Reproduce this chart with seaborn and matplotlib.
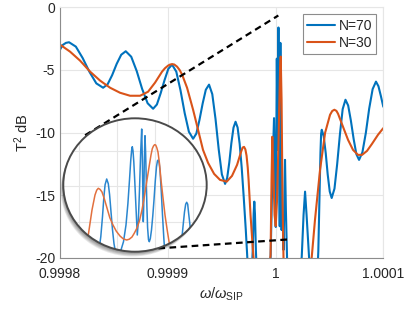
import numpy as np
import pandas as pd
import matplotlib
matplotlib.use("Agg")
import matplotlib.pyplot as plt
import seaborn as sns
from matplotlib.patches import Ellipse

# frequency offsets u = (omega/omega_SIP - 1) * 1e5, transmission in dB
n70_u = [-20, -19.75, -19.45, -19.16, -18.53, -17.9, -17.26, -16.63, -16.0,
         -15.58, -15.16, -14.74, -14.32, -13.9, -13.39, -12.88, -12.38, -11.87, -11.36,
         -11.01, -10.66, -10.3, -9.95, -9.6, -9.21, -8.82, -8.43, -8.04, -7.65,
         -7.35, -7.06, -6.76, -6.47, -6.17, -5.87, -5.57, -5.27, -4.98, -4.68,
         -4.49, -4.29, -4.1, -3.9, -3.71, -3.52, -3.33, -3.14, -2.95, -2.76, -2.6, -2.45,
         -2.25, -2.12, -2.03, -1.97, -1.91, -1.82, -1.7,
         -0.7, -0.46, -0.28, -0.14, -0.05, 0.02, 0.07, 0.12, 0.19, 0.27,
         0.34, 0.39, 0.45, 0.5, 0.56, 0.65, 0.74, 0.82, 0.88, 0.96,
         1.07, 1.16, 2.18, 2.43, 2.6, 2.74, 2.88, 3.11, 3.25,
         3.85, 3.97, 4.07, 4.17, 4.23, 4.29, 4.47, 4.66, 4.84, 5.03, 5.21,
         5.47, 5.72, 5.98, 6.23, 6.49, 6.74, 6.99, 7.25, 7.5, 7.75,
         8.06, 8.38, 8.69, 9.01, 9.32, 9.55, 9.78, 10.0]
n70_db = [-3.37, -3.0, -2.83, -2.78, -3.13, -4.04, -5.16, -6.07, -6.42,
          -6.14, -5.41, -4.51, -3.78, -3.5, -3.94, -5.09, -6.51, -7.66, -8.1,
          -7.76, -6.86, -5.81, -4.91, -4.57, -5.13, -6.62, -8.45, -9.94, -10.5,
          -10.09, -9.0, -7.67, -6.58, -6.17, -6.93, -8.91, -11.37, -13.35, -14.11,
          -13.64, -12.39, -10.86, -9.61, -9.14, -9.6, -10.9, -12.8, -15.2, -17.8, -20.3, -22.0,
          -22.0, -19.5, -16.5, -15.53, -16.5, -19.5, -22.0,
          -21.4, -20.05, -13.0, -8.85, -13.8, -17.56, -11.0, -4.09, -11.39, -1.6,
          -13.0, -17.5, -2.83, -12.0, -17.8, -16.6, -19.4, -15.4, -12.19, -16.2,
          -20.05, -21.4, -21.4, -19.97, -16.6, -14.73, -16.6, -19.97, -21.4,
          -22.0, -19.5, -15.5, -11.6, -10.1, -9.78, -10.3, -11.67, -13.35, -14.72, -15.24,
          -14.49, -12.52, -10.1, -8.13, -7.38, -7.84, -9.04, -10.53, -11.73, -12.19,
          -11.59, -10.03, -8.09, -6.53, -5.93, -6.3, -7.1, -7.94]

n30_u = [-20, -19.07, -18.14, -17.21, -16.28, -15.35, -14.43, -13.5, -12.57, -11.83,
         -11.18, -10.53, -10.25, -9.97, -9.8, -9.6, -9.4, -9.14, -8.9, -8.67,
         -8.21, -7.65, -7.19, -6.73, -6.26, -5.7, -5.15, -4.53, -4.04, -3.57,
         -3.2, -3.05, -2.92, -2.8, -2.69, -2.58, -2.5, -2.32, -2.13, -1.99, -1.81,
         -0.7, -0.46, -0.37, -0.3, -0.21, -0.09,
         0.02, 0.14, 0.28, 0.42, 0.48, 0.56, 0.65, 0.74, 0.88, 3.01,
         3.36, 3.66, 4.13, 4.6, 5.06, 5.26, 5.46, 5.65, 5.8, 6.26, 6.73, 7.19,
         7.65, 8.03, 8.49, 8.95, 9.51, 10.0]
n30_db = [-2.97, -3.53, -4.25, -5.13, -5.85, -6.42, -6.82, -7.06, -7.06, -6.74,
          -6.01, -5.13, -4.85, -4.65, -4.57, -4.53, -4.56, -4.73, -5.0, -5.37,
          -6.42, -8.18, -9.78, -11.39, -12.43, -13.31, -13.79, -13.93, -13.47, -12.59,
          -11.55, -11.2, -11.15, -11.35, -11.85, -12.8, -13.79, -16.6, -19.0, -20.6, -21.8,
          -21.8, -19.8, -13.79, -10.34, -13.0, -16.6,
          -17.48, -15.4, -10.59, -4.97, -3.93, -7.38, -15.4, -20.05, -21.8, -21.8,
          -19.97, -17.0, -12.99, -10.02, -8.58, -8.28, -8.18, -8.27, -8.5, -9.54, -10.59, -11.39,
          -11.79, -11.79, -11.47, -10.91, -10.18, -9.65]

# magnified view (local inset units)
inset_n70_x = [32.7, 35.5, 37.5, 39.2, 40.6, 41.8, 43.4, 45.0, 46.3, 47.7,
               49.2, 50.7, 52.5, 55.0, 57.7, 60.2, 62.7, 64.6, 66.2, 67.5,
               68.4, 69.0, 69.7, 70.5, 71.5, 72.8, 74.0, 75.0, 76.2, 77.4,
               78.4, 79.0, 79.6, 80.0, 80.4, 81.0, 81.7, 82.3, 82.9, 83.6,
               84.3, 85.2, 86.0, 87.0, 88.2, 89.5, 90.7, 92.0, 93.2, 94.2,
               95.0, 95.8, 96.7, 98.0, 99.2, 100.5, 101.7, 103.7, 115.7, 118.4,
               120.0, 121.2, 122.4, 123.4, 124.4, 125.2, 126.3, 127.4, 129.7]
inset_n70_y = [-10.3, 0.0, 15.0, 35.0, 55.0, 67.0, 72.7, 68.0, 57.0, 40.0,
               22.0, 8.0, -2.0, -3.0, 1.7, 10.0, 26.7, 48.0, 71.7, 92.0,
               102.0, 105.0, 101.0, 90.0, 70.0, 42.0, 16.7, 30.0, 61.7, 100.0,
               122.7, 95.0, 55.0, 30.0, 45.0, 90.0, 116.0, 100.0, 75.0, 45.0,
               24.0, 12.0, 10.0, 13.0, 21.7, 36.0, 51.7, 71.0, 85.0, 91.0,
               91.7, 89.0, 81.7, 60.0, 36.7, 14.0, -3.3, -18.0, -18.0, 11.7,
               28.0, 39.7, 47.5, 49.4, 47.5, 39.7, 30.0, 19.7, -3.3]
inset_n30_x = [21.7, 25.0, 28.7, 31.7, 33.4, 35.0, 36.8, 38.7, 41.0, 43.7,
               46.5, 49.7, 53.0, 56.7, 60.0, 63.4, 66.0, 68.7, 71.0, 73.7,
               76.2, 78.7, 81.2, 83.7, 85.8, 87.7, 89.0, 90.2, 91.3, 92.4,
               93.5, 94.7, 96.2, 97.7, 99.7, 101.7, 104.0, 106.0, 108.7]
inset_n30_y = [-8.3, 16.7, 41.7, 56.7, 61.5, 63.4, 62.3, 59.7, 53.0, 43.7,
               34.0, 26.7, 20.5, 15.7, 12.8, 11.7, 12.5, 14.7, 18.5, 23.7,
               31.0, 41.7, 56.0, 71.7, 85.0, 96.7, 103.0, 105.7, 107.0, 106.7,
               104.0, 99.7, 88.0, 71.7, 54.0, 36.7, 21.0, 8.4, -10.3]
inset_grid_x = [15.7, 53.7, 91.7, 129.7]
inset_grid_y = [29.7, 65.2, 100.7]

# zoom guide lines (u, dB)
zoom_top_u = [-17.67, 0.26]
zoom_top_db = [-10.22, -0.64]
zoom_bot_u = [-10.87, 1.09]
zoom_bot_db = [-19.27, -18.56]

x_ticks = [0.9998, 0.9999, 1.0, 1.0001]
x_tick_labels = ["0.9998", "0.9999", "1", "1.0001"]
y_ticks = [0, -5, -10, -15, -20]

blue = "#0072BD"
orange = "#D95319"

sns.set_theme(style="whitegrid")
plt.rcParams["font.family"] = ["Liberation Sans", "DejaVu Sans"]
plt.rcParams["mathtext.fontset"] = "custom"
plt.rcParams["mathtext.rm"] = "Liberation Sans"
plt.rcParams["mathtext.it"] = "Liberation Sans:italic"
plt.rcParams["axes.unicode_minus"] = False

fig = plt.figure(figsize=(4.11, 3.11), dpi=100)
ax = fig.add_axes([0.1460, 0.1720, 0.7866, 0.8039])
ax.set_facecolor("white")

def to_x(u):
    return 1.0 + np.asarray(u) * 1e-5

df70 = pd.DataFrame({"x": to_x(n70_u), "y": n70_db})
df30 = pd.DataFrame({"x": to_x(n30_u), "y": n30_db})
sns.lineplot(data=df70, x="x", y="y", ax=ax, color=blue, lw=1.5, label="N=70",
             sort=False, estimator=None)
sns.lineplot(data=df30, x="x", y="y", ax=ax, color=orange, lw=1.5, label="N=30",
             sort=False, estimator=None)

ax.set_xlim(0.9998, 1.0001)
ax.set_ylim(-20, 0)
ax.set_xticks(x_ticks)
ax.set_xticklabels(x_tick_labels)
ax.set_yticks(y_ticks)
ax.tick_params(labelsize=10, colors="#262626", length=0)
ax.tick_params(axis="x", pad=6.5)
ax.tick_params(axis="y", pad=3.5)
ax.grid(True, color="#e6e6e6", lw=0.8)
for s in ["left", "bottom"]:
    ax.spines[s].set_color("#8c8c8c")
    ax.spines[s].set_linewidth(0.8)
for s in ["top", "right"]:
    ax.spines[s].set_color("#e6e6e6")
    ax.spines[s].set_linewidth(0.8)
ax.set_xlabel(r"$\omega/\omega_{\mathrm{SIP}}$", fontsize=10.5, color="#262626", labelpad=4)
ax.set_ylabel(r"T$^2$ dB", fontsize=10.5, color="#262626", labelpad=3)

leg = ax.legend(loc="upper right", fontsize=10, fancybox=False, framealpha=1,
                edgecolor="#8c8c8c", handlelength=2.0, borderpad=0.3,
                labelspacing=0.25, handletextpad=0.3, borderaxespad=0.5)
leg.get_frame().set_linewidth(0.8)

dash = dict(color="black", lw=1.6, ls=(0, (3, 2)), zorder=6)
ax.plot(to_x(zoom_top_u), zoom_top_db, **dash)
ax.plot(to_x(zoom_bot_u), zoom_bot_db, **dash)

# inset (magnified view in a circle)
axi = fig.add_axes([0.1540, 0.1907, 0.3489, 0.4289])
axi.patch.set_visible(False)
axi.set_xlim(0, 143.4)
axi.set_ylim(0, 133.4)
for i in range(1, 7):
    sh = Ellipse((0.5 - 0.003 * i, 0.5 - 0.006 * i), 1.0, 1.0, transform=axi.transAxes,
                 facecolor="black", edgecolor="none", alpha=0.09, clip_on=False, zorder=0)
    axi.add_patch(sh)
bg = Ellipse((0.5, 0.5), 1.0, 1.0, transform=axi.transAxes, facecolor="white",
             edgecolor="none", clip_on=False, zorder=0.5)
axi.add_patch(bg)
axi.set_xticks(inset_grid_x)
axi.set_yticks(inset_grid_y)
axi.set_xticklabels([])
axi.set_yticklabels([])
axi.tick_params(length=0)
axi.grid(True, color="#e6e6e6", lw=0.8)
for s in axi.spines.values():
    s.set_visible(False)
l1, = axi.plot(inset_n70_x, inset_n70_y, color="#2a86cf", lw=1.1, zorder=2)
l2, = axi.plot(inset_n30_x, inset_n30_y, color="#e2703e", lw=1.1, zorder=3)
for ln in [l1, l2] + axi.get_xgridlines() + axi.get_ygridlines():
    ln.set_clip_path(bg)
rim = Ellipse((0.5, 0.5), 1.0, 1.0, transform=axi.transAxes, facecolor="none",
              edgecolor="#4a4a4a", lw=1.4, clip_on=False, zorder=5)
axi.add_patch(rim)

fig.savefig("out.png", dpi=100)
